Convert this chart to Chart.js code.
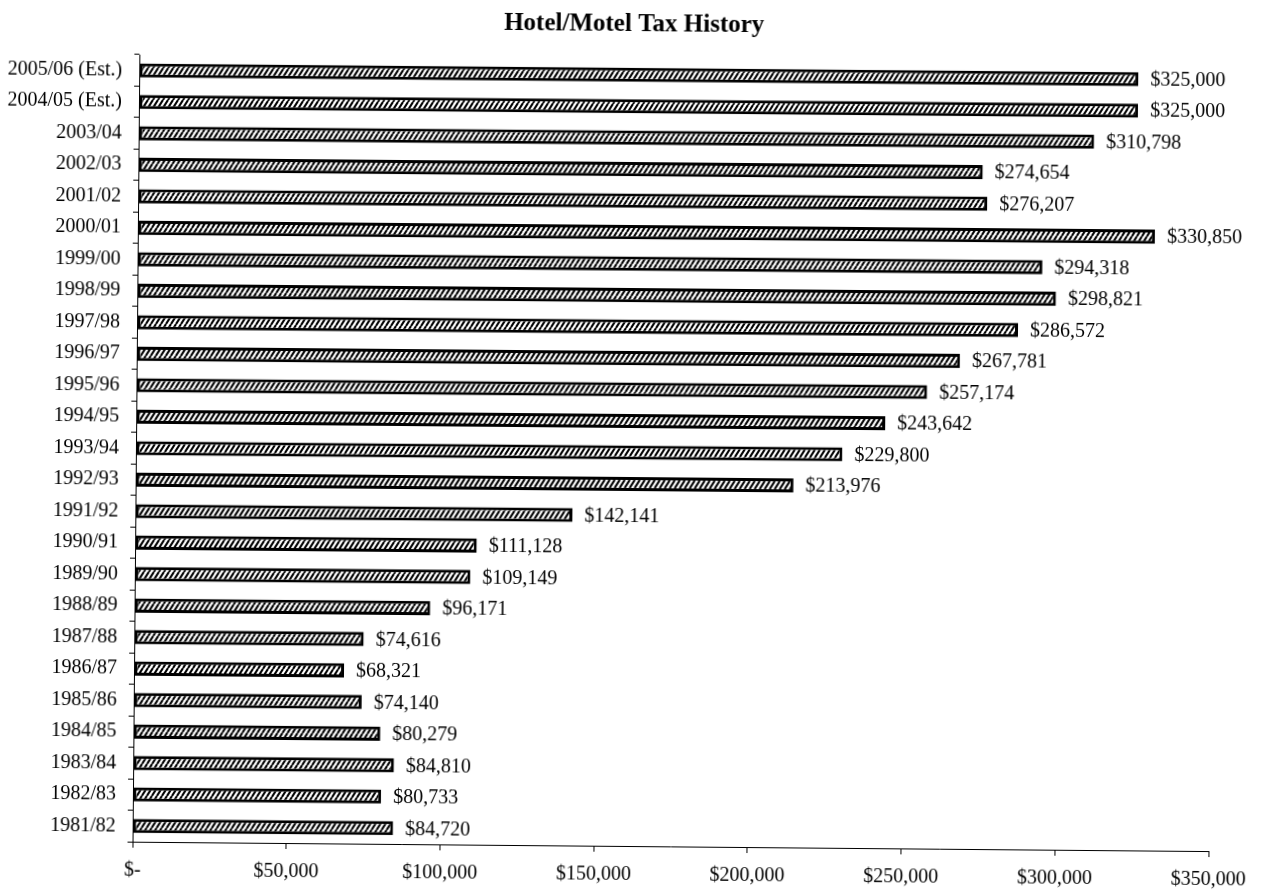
<!DOCTYPE html>
<html>
<head>
<meta charset="utf-8">
<title>Hotel/Motel Tax History</title>
<script src="https://cdn.jsdelivr.net/npm/chart.js@4/dist/chart.umd.min.js"></script>
<style>
  html, body { margin: 0; padding: 0; background: #fff; overflow: hidden; }
  #wrap { width: 1261px; height: 890px; transform: rotate(0.5deg); transform-origin: 630px 445px; }
</style>
</head>
<body>
<div id="wrap"><canvas id="taxChart" width="1261" height="890"></canvas></div>
<script>
// --- data ---
const chartTitle = 'Hotel/Motel Tax History';
const years = [
  '2005/06 (Est.)', '2004/05 (Est.)', '2003/04', '2002/03', '2001/02', '2000/01',
  '1999/00', '1998/99', '1997/98', '1996/97', '1995/96', '1994/95', '1993/94',
  '1992/93', '1991/92', '1990/91', '1989/90', '1988/89', '1987/88', '1986/87',
  '1985/86', '1984/85', '1983/84', '1982/83', '1981/82'
];
const taxCollected = [
  325000, 325000, 310798, 274654, 276207, 330850,
  294318, 298821, 286572, 267781, 257174, 243642, 229800,
  213976, 142141, 111128, 109149, 96171, 74616, 68321,
  74140, 80279, 84810, 80733, 84720
];
const xTickLabels = ['$-', '$50,000', '$100,000', '$150,000', '$200,000', '$250,000', '$300,000', '$350,000'];

const serif = "'Liberation Serif', 'Times New Roman', serif";

// hatch fill for the bars (steep "/" lines)
function makeHatch() {
  const w = 5, h = 8;
  const c = document.createElement('canvas');
  c.width = w;
  c.height = h;
  const g = c.getContext('2d');
  g.fillStyle = '#fff';
  g.fillRect(0, 0, w, h);
  g.strokeStyle = '#000';
  g.lineWidth = 2.1;
  g.beginPath();
  g.moveTo(0, h); g.lineTo(w, 0);
  g.moveTo(-w, h); g.lineTo(0, 0);
  g.moveTo(w, h); g.lineTo(2 * w, 0);
  g.stroke();
  return g.createPattern(c, 'repeat');
}

function money(v) {
  return '$' + v.toLocaleString('en-US');
}

// title centred on the page, not on the plot area
const pageTitle = {
  id: 'pageTitle',
  afterDraw(chart) {
    const ctx = chart.ctx;
    ctx.save();
    ctx.font = 'bold 25px ' + serif;
    ctx.fillStyle = '#000';
    ctx.textAlign = 'center';
    ctx.textBaseline = 'middle';
    ctx.fillText(chartTitle, chart.width / 2, 25);
    ctx.restore();
  }
};

// value text right of each bar
const barLabels = {
  id: 'barLabels',
  afterDatasetsDraw(chart) {
    const ctx = chart.ctx;
    const meta = chart.getDatasetMeta(0);
    ctx.save();
    ctx.font = '20px ' + serif;
    ctx.fillStyle = '#000';
    ctx.textAlign = 'left';
    ctx.textBaseline = 'middle';
    meta.data.forEach((bar, i) => {
      ctx.fillText(money(taxCollected[i]), bar.x + 12, bar.y + 1);
    });
    ctx.restore();
  }
};

new Chart(document.getElementById('taxChart'), {
  type: 'bar',
  data: {
    labels: years,
    datasets: [{
      data: taxCollected,
      backgroundColor: makeHatch(),
      borderColor: '#000',
      borderWidth: 3,
      borderSkipped: false,
      barPercentage: 0.45,
      categoryPercentage: 1
    }]
  },
  options: {
    indexAxis: 'y',
    responsive: false,
    animation: false,
    layout: { padding: { top: 59, left: 0, right: 49, bottom: 0 } },
    plugins: {
      legend: { display: false },
      tooltip: { enabled: false },
      title: { display: false }
    },
    scales: {
      x: {
        min: 0,
        max: 350000,
        ticks: {
          stepSize: 50000,
          color: '#000',
          font: { family: serif, size: 20 },
          padding: 11,
          maxRotation: 0,
          callback: (v, i) => xTickLabels[i]
        },
        grid: { drawOnChartArea: false, color: '#000', tickLength: 6 },
        border: { color: '#000', width: 1 },
        afterFit: (s) => { s.height = 44; }
      },
      y: {
        ticks: {
          color: '#000',
          font: { family: serif, size: 20 },
          padding: 12
        },
        grid: { drawOnChartArea: false, color: '#000', tickLength: 5 },
        border: { color: '#000', width: 1 },
        afterFit: (s) => { s.width = 136; }
      }
    }
  },
  plugins: [pageTitle, barLabels]
});
</script>
</body>
</html>
